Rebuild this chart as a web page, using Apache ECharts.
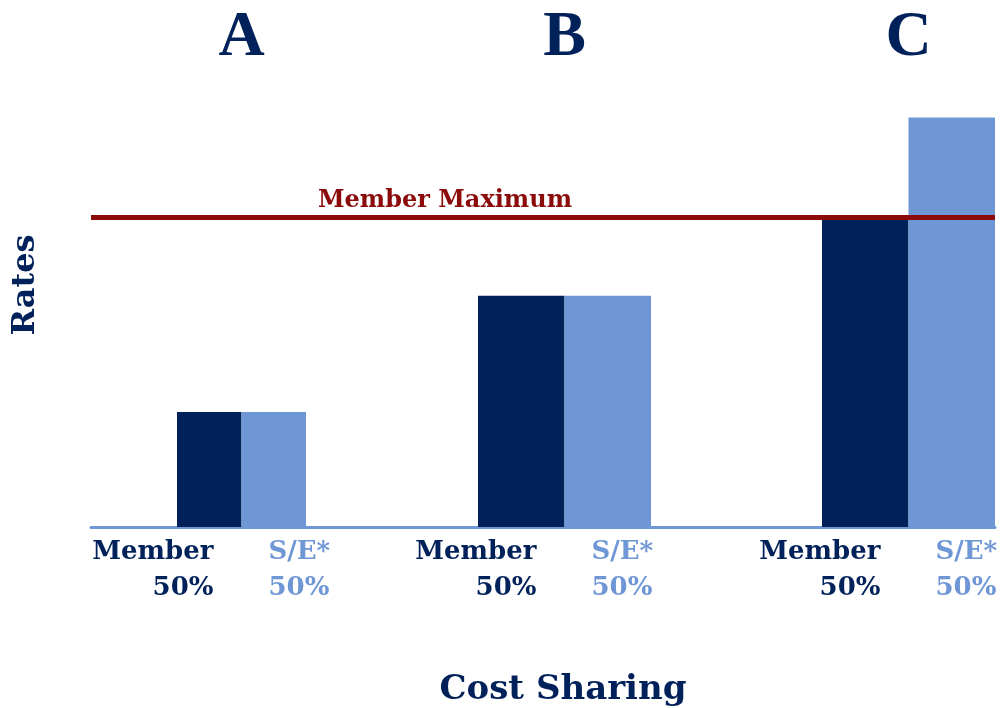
<!DOCTYPE html>
<html>
<head>
<meta charset="utf-8">
<script src="https://cdn.jsdelivr.net/npm/echarts@6.0.0/dist/echarts.min.js"></script>
<style>
  html, body { margin: 0; padding: 0; background: #fff; }
  #chart { width: 1002px; height: 708px; }
</style>
</head>
<body>
<div id="chart"></div>
<script>
// cost sharing groups
const groups = ['A', 'B', 'C']
const shareLabels = ['Member', 'S/E*']
const sharePct = ['50%', '50%']
const memberRates = [1.0, 2.01, 2.69]
const seRates = [1.0, 2.01, 3.56]
const memberMax = 2.69

const navy = '#00215a'
const lightBlue = '#6f97d5'
const darkRed = '#8b0a0a'
const serif = '"DejaVu Serif", serif'

const groupGrids = [
  { left: 177, width: 129 },
  { left: 478, width: 173 },
  { left: 822, width: 173 }
]

const chart = echarts.init(document.getElementById('chart'))

const grid = groupGrids.map(g => ({ left: g.left, width: g.width, top: 67, height: 460 }))
grid.push({ left: 91, right: 7, top: 67, height: 460 })

const xAxis = groups.map((g, i) => ({
  type: 'category', gridIndex: i, data: shareLabels, show: false
}))
xAxis.push({
  type: 'value', gridIndex: 3, min: 0, max: 1,
  axisLine: { show: true, lineStyle: { color: lightBlue, width: 3 } },
  axisTick: { show: false }, axisLabel: { show: false }, splitLine: { show: false }
})

const yAxis = grid.map((g, i) => ({
  type: 'value', gridIndex: i, min: 0, max: 4, show: false
}))

const series = groups.map((g, i) => ({
  type: 'bar',
  xAxisIndex: i,
  yAxisIndex: i,
  barCategoryGap: '0%',
  barGap: '0%',
  data: [
    { value: memberRates[i], itemStyle: { color: navy } },
    { value: seRates[i], itemStyle: { color: lightBlue } }
  ]
}))
series.push({
  type: 'line',
  xAxisIndex: 3,
  yAxisIndex: 3,
  data: [],
  z: 10,
  markLine: {
    silent: true,
    symbol: 'none',
    label: { show: false },
    lineStyle: { color: darkRed, width: 5, type: 'solid' },
    data: [{ yAxis: memberMax }]
  }
})

chart.setOption({
  animation: false,
  grid: grid,
  xAxis: xAxis,
  yAxis: yAxis,
  series: series
})

// texts placed from the axes
const graphic = []
groups.forEach((g, i) => {
  const x0 = chart.convertToPixel({ xAxisIndex: i }, shareLabels[0])
  const x1 = chart.convertToPixel({ xAxisIndex: i }, shareLabels[1])
  const cx = (x0 + x1) / 2
  const base = chart.convertToPixel({ yAxisIndex: i }, 0)
  graphic.push({
    type: 'text', x: cx, y: 38,
    style: { text: g, textAlign: 'center', textVerticalAlign: 'middle',
      font: 'bold 64px "Liberation Serif", serif', fill: navy }
  })
  graphic.push({
    type: 'text', x: cx - 28, y: base + 7,
    style: { text: shareLabels[0] + '\n' + sharePct[0], textAlign: 'right', textVerticalAlign: 'top',
      font: 'bold 26px ' + serif, lineHeight: 36, fill: navy }
  })
  graphic.push({
    type: 'text', x: cx + 27, y: base + 7,
    style: { text: shareLabels[1] + '\n' + sharePct[1], textAlign: 'left', textVerticalAlign: 'top',
      font: 'bold 26px ' + serif, lineHeight: 36, fill: lightBlue }
  })
})
const yMax = chart.convertToPixel({ yAxisIndex: 3 }, memberMax)
graphic.push({
  type: 'text', x: 318, y: yMax - 5,
  style: { text: 'Member Maximum', textAlign: 'left', textVerticalAlign: 'bottom',
    font: 'bold 24px ' + serif, fill: darkRed }
})
graphic.push({
  type: 'text', x: 563, y: 690,
  style: { text: 'Cost Sharing', textAlign: 'center', textVerticalAlign: 'middle',
    font: 'bold 34px ' + serif, fill: navy }
})
graphic.push({
  type: 'text', x: 26, y: 285, rotation: Math.PI / 2,
  style: { text: 'Rates', textAlign: 'center', textVerticalAlign: 'middle',
    font: 'bold 32px ' + serif, fill: navy }
})
chart.setOption({ graphic: graphic })
</script>
</body>
</html>
